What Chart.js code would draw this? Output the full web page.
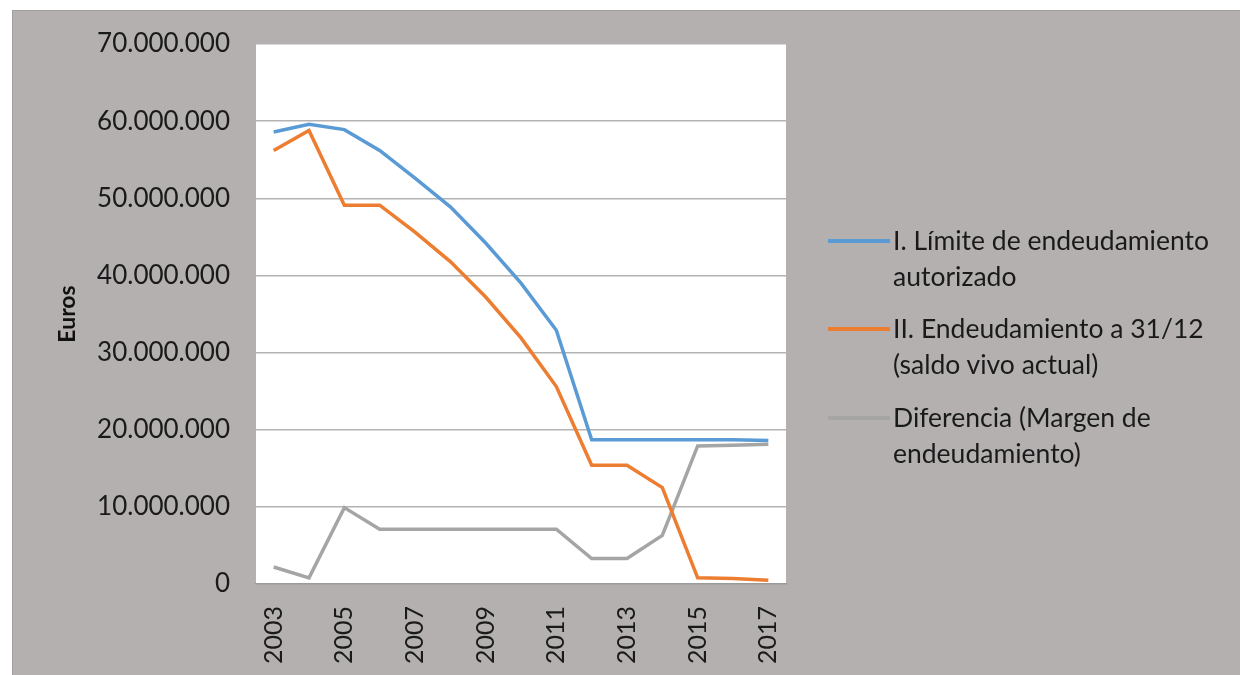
<!DOCTYPE html>
<html>
<head>
<meta charset="utf-8">
<script src="https://cdn.jsdelivr.net/npm/chart.js@4"></script>
<style>
    body { margin: 0; background: #fff; font-family: Lato, sans-serif; }
    #box { position: absolute; left: 12px; top: 10px; width: 1228px; height: 665px; background: #b4b0b0; border-left: 1px solid #a29e9e; border-top: 1px solid #a29e9e; }
    #box canvas { position: absolute; left: 0; top: 0; }
    .leg { position: absolute; left: 815px; color: #1a1a1a; font-size: 26.5px; line-height: 36px; }
    .leg span { position: absolute; left: 0; top: 17px; width: 62px; height: 4px; }
    .leg div { margin-left: 65px; white-space: nowrap; }
</style>
</head>
<body>
<div id="box">
    <canvas id="chart" width="1228" height="665"></canvas>
    <div class="leg" style="top: 211px"><span style="background:#5b9bd5"></span><div>I. Límite de endeudamiento<br>autorizado</div></div>
    <div class="leg" style="top: 299px"><span style="background:#ed7d31"></span><div>II. Endeudamiento a 31/12<br>(saldo vivo actual)</div></div>
    <div class="leg" style="top: 388px"><span style="background:#a5a5a5"></span><div>Diferencia (Margen de<br>endeudamiento)</div></div>
</div>
<script>
"use strict";
const years = ["2003", "2004", "2005", "2006", "2007", "2008", "2009", "2010", "2011", "2012", "2013", "2014", "2015", "2016", "2017"];
const limite = [58600000, 59600000, 58900000, 56200000, 52600000, 48900000, 44200000, 39000000, 32900000, 18700000, 18700000, 18700000, 18700000, 18700000, 18600000];
const endeudamiento = [56200000, 58800000, 49100000, 49100000, 45600000, 41800000, 37200000, 31900000, 25600000, 15400000, 15400000, 12500000, 800000, 700000, 500000];
const diferencia = [2200000, 800000, 9900000, 7100000, 7100000, 7100000, 7100000, 7100000, 7100000, 3300000, 3300000, 6300000, 17900000, 18000000, 18100000];

function fmt(v) {
    return String(v).replace(/\B(?=(\d{3})+(?!\d))/g, ".");
}

// white plot area like the Excel original
const plotBg = {
    id: "plotBg",
    beforeDraw: function (chart) {
        const a = chart.chartArea;
        chart.ctx.save();
        chart.ctx.fillStyle = "#ffffff";
        chart.ctx.fillRect(a.left, a.top, a.right - a.left, a.bottom - a.top);
        chart.ctx.restore();
    }
};

const ctx = document.getElementById("chart").getContext("2d");
const chart = new Chart(ctx, {
    type: "line",
    data: {
        labels: years,
        datasets: [
            { label: "I. Límite de endeudamiento autorizado", data: limite, borderColor: "#5b9bd5" },
            { label: "II. Endeudamiento a 31/12 (saldo vivo actual)", data: endeudamiento, borderColor: "#ed7d31" },
            { label: "Diferencia (Margen de endeudamiento)", data: diferencia, borderColor: "#a5a5a5" }
        ]
    },
    options: {
        responsive: false,
        animation: false,
        elements: {
            line: { borderWidth: 3.5, tension: 0, fill: false },
            point: { radius: 0 }
        },
        layout: { padding: { left: 41, right: 455, top: 33, bottom: 0 } },
        plugins: {
            legend: { display: false },
            tooltip: { enabled: false }
        },
        scales: {
            y: {
                min: 0,
                max: 70000000,
                ticks: {
                    stepSize: 10000000,
                    padding: 26,
                    color: "#1a1a1a",
                    font: { family: "Lato", size: 26 },
                    callback: function (v) { return fmt(v); }
                },
                grid: { color: "#b3b3b3", lineWidth: 1.5, drawTicks: false },
                border: { display: false },
                title: {
                    display: true,
                    text: "Euros",
                    color: "#111",
                    padding: 0,
                    font: { family: "Lato", size: 23, weight: "bold" }
                },
                afterFit: function (scale) {
                    scale.width = 202;
                    scale.paddingTop = 0;
                    scale.paddingBottom = 0;
                }
            },
            x: {
                offset: true,
                ticks: {
                    autoSkip: false,
                    minRotation: 90,
                    maxRotation: 90,
                    padding: 14,
                    color: "#1a1a1a",
                    font: { family: "Lato", size: 25 },
                    callback: function (v, i) { return i % 2 === 0 ? years[i] : ""; }
                },
                grid: { display: false },
                border: { color: "#9a9a9a", width: 1.5 },
                afterFit: function (scale) { scale.height = 92; }
            }
        }
    },
    plugins: [plotBg]
});
</script>
</body>
</html>
